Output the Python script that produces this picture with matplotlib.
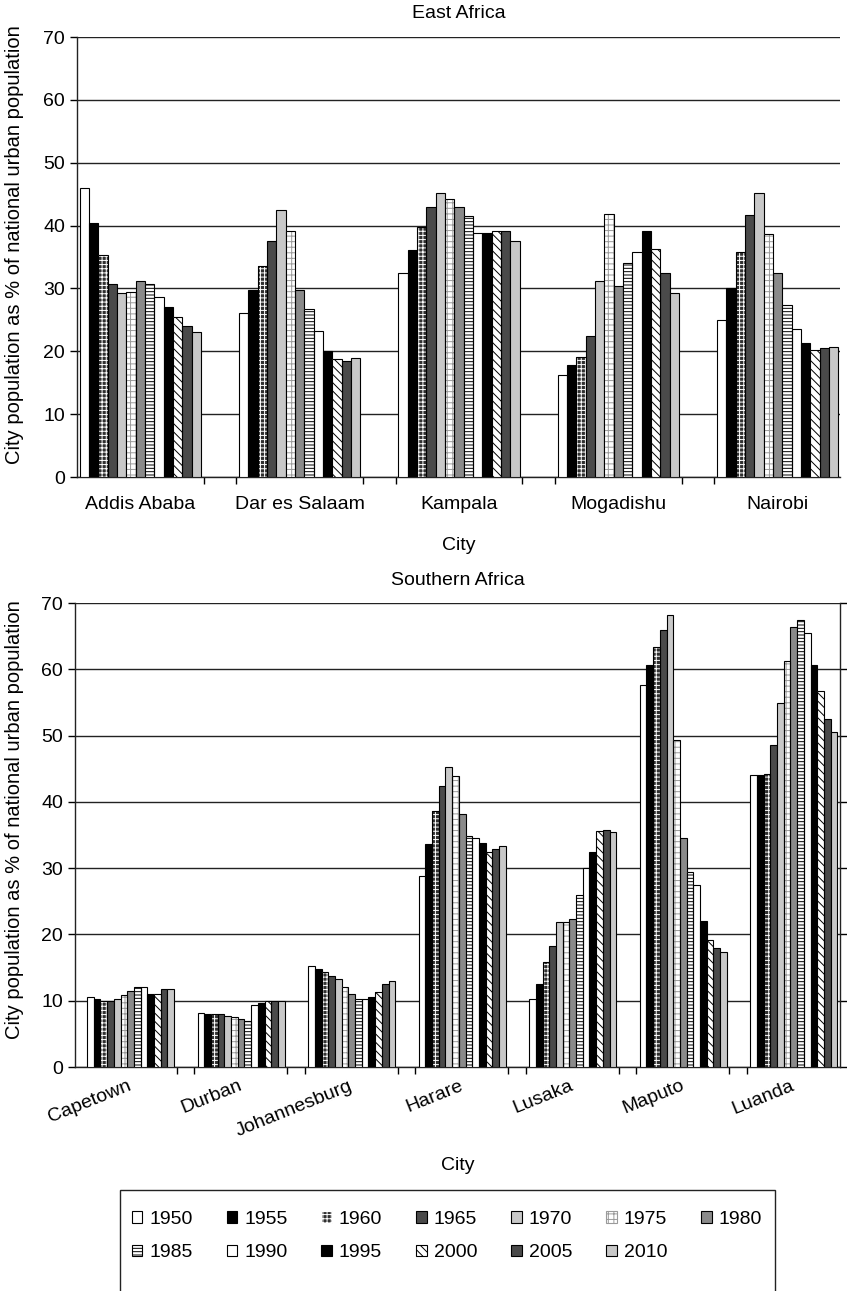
import matplotlib
matplotlib.use("Agg")
import matplotlib.pyplot as plt
import numpy as np

plt.rcParams['font.family'] = ['Liberation Sans', 'DejaVu Sans']
plt.rcParams['hatch.linewidth'] = 0.7

years = ['1950', '1955', '1960', '1965', '1970', '1975', '1980',
         '1985', '1990', '1995', '2000', '2005', '2010']

# East Africa
east_cities = ['Addis Ababa', 'Dar es Salaam', 'Kampala', 'Mogadishu', 'Nairobi']
addis = [46.0, 40.4, 35.3, 30.7, 29.2, 29.5, 31.2, 30.7, 28.7, 27.0, 25.4, 24.1, 23.1]
dar = [26.1, 29.7, 33.5, 37.6, 42.4, 39.2, 29.7, 26.7, 23.3, 20.0, 18.8, 18.5, 19.0]
kampala = [32.5, 36.1, 39.7, 43.0, 45.2, 44.2, 43.0, 41.5, 38.8, 38.8, 39.1, 39.1, 37.6]
mogadishu = [16.2, 17.8, 19.1, 22.5, 31.2, 41.9, 30.4, 34.1, 35.8, 39.2, 36.3, 32.5, 29.2]
nairobi = [24.9, 30.0, 35.8, 41.7, 45.2, 38.6, 32.5, 27.4, 23.6, 21.3, 20.2, 20.5, 20.7]

# Southern Africa
south_cities = ['Capetown', 'Durban', 'Johannesburg', 'Harare', 'Lusaka', 'Maputo', 'Luanda']
capetown = [10.5, 10.2, 9.9, 10.0, 10.3, 10.8, 11.5, 12.0, 12.0, 11.0, 11.0, 11.8, 11.8]
durban = [8.2, 8.0, 8.0, 8.0, 7.7, 7.5, 7.3, 7.0, 9.3, 9.7, 9.9, 10.0, 10.0]
johannesburg = [15.3, 14.8, 14.3, 13.8, 13.3, 12.1, 11.0, 10.3, 10.3, 10.6, 11.3, 12.5, 13.0]
harare = [28.8, 33.6, 38.6, 42.4, 45.2, 43.9, 38.1, 34.9, 34.5, 33.8, 32.5, 32.9, 33.3]
lusaka = [10.3, 12.5, 15.9, 18.3, 21.8, 21.8, 22.3, 25.9, 30.0, 32.4, 35.6, 35.8, 35.4]
maputo = [57.7, 60.6, 63.4, 66.0, 68.2, 49.4, 34.6, 29.4, 27.4, 22.0, 19.1, 17.9, 17.3]
luanda = [44.1, 44.1, 44.2, 48.6, 54.9, 61.2, 66.4, 67.5, 65.4, 60.6, 56.7, 52.5, 50.5]

east_data = np.array([addis, dar, kampala, mogadishu, nairobi])
south_data = np.array([capetown, durban, johannesburg, harare, lusaka, maputo, luanda])

# fill, hatch, hatch colour for each year
styles = [
    ('white', '', 'black'),
    ('black', '', 'black'),
    ('#303030', '++++', 'white'),
    ('#4a4a4a', '', 'black'),
    ('#c8c8c8', '', 'black'),
    ('white', '+++', '#9a9a9a'),
    ('#8a8a8a', '', 'black'),
    ('white', '-----', 'black'),
    ('white', '', 'black'),
    ('black', '', 'black'),
    ('white', '\\\\\\\\', 'black'),
    ('#4a4a4a', '', 'black'),
    ('#c8c8c8', '', 'black'),
]

FS = 14
W, H = 847, 1291
fig = plt.figure(figsize=(W / 100, H / 100), dpi=100)


def px_axes(left, top, right, bottom):
    return fig.add_axes([left / W, 1 - bottom / H, (right - left) / W, (bottom - top) / H])


def draw(ax, data, cities, period, xlim, tick_off):
    n = len(years)
    handles = []
    for j in range(n):
        face, hatch, hcol = styles[j]
        xs = np.arange(len(cities)) * period + j + 0.5
        if hatch:
            ax.bar(xs, data[:, j], width=1, color=face, edgecolor=hcol,
                   hatch=hatch, linewidth=0, zorder=3)
            ax.bar(xs, data[:, j], width=1, fill=False, edgecolor='black',
                   linewidth=0.8, zorder=4)
        else:
            ax.bar(xs, data[:, j], width=1, color=face, edgecolor='black',
                   linewidth=0.8, zorder=3)
        handles.append(plt.Rectangle((0, 0), 1, 1, facecolor=face,
                                     edgecolor='black' if not hatch else hcol,
                                     hatch=hatch, linewidth=0.8))
    ax.set_xlim(*xlim)
    ax.set_ylim(0, 70)
    ax.set_yticks(range(0, 71, 10))
    ax.yaxis.grid(True, color='#222222', linewidth=1.0, zorder=0)
    ax.set_axisbelow(True)
    ticks = []
    for i in range(len(cities) - 1):
        ticks += [i * period + 13 + tick_off[0], (i + 1) * period - tick_off[1]]
    ax.set_xticks(ticks)
    ax.set_xticklabels([])
    centers = np.arange(len(cities)) * period + 6.5
    ax.set_xticks(centers, minor=True)
    ax.tick_params(axis='x', which='minor', length=0)
    ax.tick_params(axis='both', which='major', direction='out', length=5,
                   width=1, labelsize=FS, colors='black')
    for s in ax.spines.values():
        s.set_linewidth(1.0)
        s.set_color('#222222')
    return centers, handles


# top chart
ax1 = px_axes(77, 37, 840, 477)
c1, handles = draw(ax1, east_data, east_cities, 17.1, (-0.3, 81.6), (0.3, 0.3))
ax1.set_xticklabels(east_cities, minor=True, fontsize=FS)
ax1.tick_params(axis='x', which='minor', pad=14)
ax1.spines['top'].set_visible(False)
ax1.spines['right'].set_visible(False)
fig.text((77 + 840) / 2 / W, 1 - 13 / H, 'East Africa', ha='center', va='center', fontsize=FS)
fig.text((77 + 840) / 2 / W, 1 - 545 / H, 'City', ha='center', va='center', fontsize=FS)
fig.text(15 / W, 1 - 245 / H, 'City population as % of national urban population',
         rotation=90, ha='center', va='center', fontsize=14.5)

# bottom chart
ax2 = px_axes(75, 603, 840, 1067)
c2, _ = draw(ax2, south_data, south_cities, 16.5, (-1.8, 112.4), (0.4, 0.5))
ax2.set_xticklabels(south_cities, minor=True, rotation=22, ha='right', va='center',
                    rotation_mode='anchor', fontsize=FS)
ax2.tick_params(axis='x', which='minor', pad=13)
ax2.tick_params(axis='y', right=True, labelright=False)
ax2.spines['top'].set_visible(False)
fig.text((75 + 840) / 2 / W, 1 - 581 / H, 'Southern Africa', ha='center', va='center', fontsize=FS)
fig.text((75 + 840) / 2 / W, 1 - 1166 / H, 'City', ha='center', va='center', fontsize=FS)
fig.text(15 / W, 1 - 820 / H, 'City population as % of national urban population',
         rotation=90, ha='center', va='center', fontsize=14.5)

# legend: row-wise order, frame open at the bottom edge of the figure
order = [0, 7, 1, 8, 2, 9, 3, 10, 4, 11, 5, 12, 6]
leg = fig.legend([handles[k] for k in order], [years[k] for k in order],
                 loc='upper center', bbox_to_anchor=(447 / W, 1 - 1201 / H),
                 ncol=7, fontsize=FS, handlelength=0.55, handleheight=0.55,
                 handletextpad=0.35, columnspacing=1.75, labelspacing=0.85,
                 frameon=False, borderpad=0)
fig.patches.append(plt.Rectangle((120 / W, -0.01), (775 - 120) / W, 0.01 + (1291 - 1190) / H,
                                 transform=fig.transFigure, fill=False,
                                 edgecolor='#222222', linewidth=1.0))

fig.savefig('out.png', dpi=100)
